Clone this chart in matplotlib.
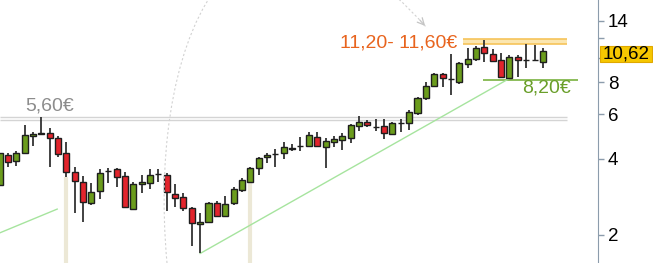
import numpy as np
import matplotlib.pyplot as plt
from matplotlib.path import Path
from matplotlib.patches import PathPatch, Rectangle
from matplotlib.transforms import blended_transform_factory

plt.rcParams['font.family'] = ['Liberation Sans', 'DejaVu Sans']

# Tageskerzen, Euro
opens = [3.15, 4.14, 3.93, 4.20, 4.92, 5.02, 5.04, 4.81, 4.20, 3.56,
         3.25, 2.68, 2.98, 3.57, 3.63, 3.42, 2.53, 3.17, 3.20, 3.47,
         3.45, 2.90, 2.82, 2.55, 2.21, 2.24, 2.68, 2.38, 2.67, 3.01,
         3.25, 3.67, 4.05, 4.16, 4.20, 4.38, 4.47, 4.51, 4.86, 4.46,
         4.67, 4.74, 4.83, 5.40, 5.60, 5.32, 5.39, 5.00, 5.51, 5.51,
         6.05, 6.93, 7.75, 8.61, 8.22, 8.06, 9.46, 9.88, 11.08, 10.36,
         9.82, 8.33, 10.11, 9.84, 9.82, 9.60]
highs = [4.33, 4.22, 4.30, 5.44, 5.11, 5.86, 5.27, 4.92, 4.64, 3.70,
         3.43, 3.20, 3.63, 3.67, 3.67, 3.56, 3.25, 3.45, 3.63, 3.63,
         3.52, 3.18, 2.94, 2.57, 2.44, 2.71, 2.73, 2.86, 3.08, 3.35,
         3.70, 4.05, 4.22, 4.36, 4.64, 4.57, 4.88, 5.08, 5.08, 4.81,
         4.92, 5.04, 5.47, 5.90, 5.69, 5.73, 5.73, 5.60, 5.73, 6.23,
         7.03, 8.06, 8.69, 8.69, 10.36, 9.67, 10.92, 11.15, 11.77, 10.85,
         10.49, 10.27, 10.27, 11.40, 11.20, 10.97]
lows = [3.07, 3.72, 3.74, 4.18, 4.49, 4.96, 3.70, 4.05, 3.40, 2.44,
        2.26, 2.63, 2.77, 3.20, 3.10, 2.57, 2.51, 2.94, 3.03, 3.25,
        2.49, 2.57, 2.49, 1.81, 1.69, 2.22, 2.35, 2.36, 2.63, 2.96,
        3.22, 3.45, 3.85, 3.72, 3.98, 4.30, 4.30, 4.46, 4.44, 3.69,
        4.46, 4.33, 4.62, 5.14, 5.33, 5.14, 4.78, 4.96, 5.11, 5.19,
        5.95, 6.82, 7.70, 7.70, 7.14, 7.89, 9.10, 9.73, 9.60, 9.60,
        8.38, 8.30, 8.38, 9.16, 9.78, 9.10]
closes = [4.20, 3.88, 4.22, 4.96, 5.01, 5.04, 4.81, 4.18, 3.56, 3.28,
          2.71, 2.95, 3.52, 3.59, 3.38, 2.59, 3.18, 3.25, 3.45, 3.49,
          2.95, 2.81, 2.55, 2.22, 2.26, 2.67, 2.38, 2.64, 3.03, 3.30,
          3.67, 4.02, 4.14, 4.17, 4.46, 4.40, 4.49, 4.96, 4.49, 4.70,
          4.77, 4.92, 5.44, 5.60, 5.44, 5.33, 5.04, 5.55, 5.53, 6.09,
          6.93, 7.75, 8.61, 8.31, 8.24, 9.53, 9.88, 10.98, 10.43, 9.73,
          8.43, 10.11, 9.82, 9.85, 9.83, 10.62]

last_price = 10.62
support = 5.60
target_low, target_high = 11.35, 11.85
stop = 8.20
yticks = [2, 4, 6, 8, 10, 12, 14]
ytick_labels = ['2', '4', '6', '8', '', '', '14']

o = np.array(opens)
h = np.array(highs)
l = np.array(lows)
c = np.array(closes)
idx = np.arange(len(o))
up = c >= o

fig = plt.figure(figsize=(6.53, 2.63), dpi=100)
ax = fig.add_axes([0, 0, 598 / 653, 1])
ax.set_yscale('log')
ax.set_xlim(0.06, 71.59)
ax.set_ylim(1.55, 16.93)

# beige Markierungen unter zwei Kerzen
for i in [8, 30]:
    ax.vlines(i, 1.0, l[i], color='#ece8d6', lw=3, zorder=1)

# Linien
ax.hlines([5.69, 5.84], 0.06, 67.9, color='#d4d4d4', lw=1, zorder=1)
ax.fill_between([55.4, 67.9], target_low, target_high, color='#fbe6b0', lw=0, zorder=1)
ax.hlines([target_low, target_high], 55.4, 67.9, color='#f6c45a', lw=1.2, zorder=1)
ax.hlines(stop, 57.8, 69.2, color='#84b84e', lw=1.3, zorder=1)
ax.plot([0.06, 6.9], [2.04, 2.53], color='#a6e49e', lw=1, zorder=1)
ax.plot([24, 61], [l[24], l[61]], color='#a6e49e', lw=1, zorder=1)

# Kerzen
ax.vlines(idx, l, h, color='#333333', lw=1.3, zorder=2)
body_low = np.minimum(o, c)
body_h = np.maximum(np.abs(c - o), 0.015)
ax.bar(idx[up], body_h[up], bottom=body_low[up], width=0.72,
       color='#6b9c1c', edgecolor='#1e1e1e', lw=1, zorder=3)
ax.bar(idx[~up], body_h[~up], bottom=body_low[~up], width=0.72,
       color='#e2242c', edgecolor='#1e1e1e', lw=1, zorder=3)

# Beschriftungen
ax.text(3.05, 6.46, '5,60€', color='#8c8c8c', fontsize=14, ha='left', va='center')
ax.text(54.8, 11.42, '11,20- 11,60€', color='#e8641e', fontsize=14, ha='right', va='center')
ax.text(62.5, 7.61, '8,20€', color='#6a9f2a', fontsize=14, ha='left', va='center')

# Achse rechts
for s in ['top', 'bottom', 'left']:
    ax.spines[s].set_visible(False)
ax.spines['right'].set_color('#8c9cac')
ax.set_xticks([])
ax.yaxis.tick_right()
ax.set_yticks(yticks)
ax.set_yticklabels(ytick_labels)
ax.yaxis.set_minor_locator(plt.NullLocator())
ax.tick_params(axis='y', length=4, width=1, color='#8c9cac', labelsize=13.5, pad=3)

# Kursbox
bt = blended_transform_factory(ax.transAxes, ax.transData)
ax.add_patch(Rectangle((1.003, 9.60), 0.087, 11.15 - 9.60, transform=bt,
                       facecolor='#f6c700', edgecolor='#e0a800', lw=0.8, clip_on=False, zorder=4))
ax.text(1.008, 10.35, f'{last_price:.2f}'.replace('.', ','), transform=bt,
        fontsize=13.5, ha='left', va='center', zorder=5, clip_on=False)


# gestrichelter Bogen mit Pfeil (Pixelkoordinaten der Abbildung)
def px(x, y):
    return (x / 653, 1 - y / 263)


arc = Path([px(167, 263), px(145, 20), px(250, -170), px(427, 28)],
           [Path.MOVETO, Path.CURVE4, Path.CURVE4, Path.CURVE4])
fig.add_artist(PathPatch(arc, transform=fig.transFigure, fill=False,
                         edgecolor='#d2d2d2', lw=0.8, linestyle=(0, (2, 2))))
ax.annotate('', xy=px(427, 28), xytext=px(418, 18), xycoords='figure fraction',
            textcoords='figure fraction',
            arrowprops=dict(arrowstyle='->', color='#c4c4c4', lw=0.9,
                            mutation_scale=12))

fig.savefig('out.png', dpi=100)
